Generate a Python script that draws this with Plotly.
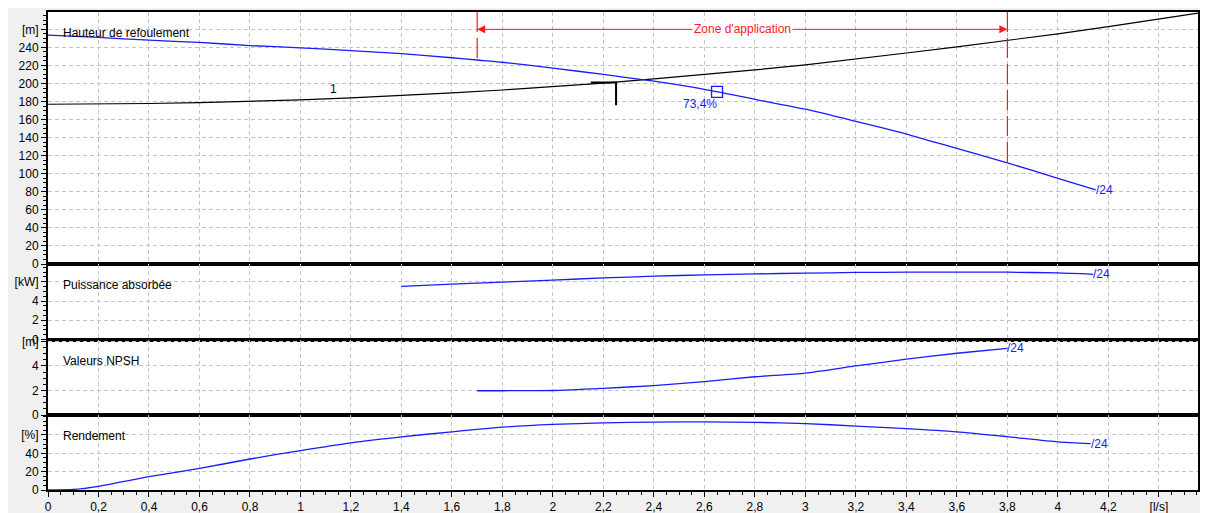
import numpy as np
import plotly.graph_objects as go
from plotly.subplots import make_subplots

# ---------------- data ----------------
# Pump head curve (blue), Q in l/s, H in m
q_head = [0, 0.2, 0.4, 0.6, 0.8, 1.0, 1.2, 1.4, 1.6, 1.7, 1.8, 2.0, 2.2, 2.4, 2.6,
          2.8, 3.0, 3.2, 3.4, 3.6, 3.8, 4.0, 4.15]
h_head = [253.5, 251, 248, 245.5, 242, 239.5, 236.5, 233, 228.5, 226, 223.5, 217,
          210, 202.5, 193.5, 182.5, 171.5, 158, 144, 128, 112, 95, 82]

# System curve (black)
q_sys = [0, 0.2, 0.4, 0.6, 0.8, 1.0, 1.2, 1.4, 1.6, 1.8, 2.0, 2.2, 2.4, 2.6, 2.8,
         3.0, 3.2, 3.4, 3.6, 3.8, 4.0, 4.2, 4.4, 4.555]
h_sys = [177, 177.2, 177.8, 178.8, 180.1, 181.9, 184, 186.6, 189.5, 192.8, 196.3,
         200.5, 205, 209.8, 215, 220.7, 227, 233.8, 240.5, 247.5, 255, 263, 271.3, 278]

# Duty point indicator on the system curve (black bracket)
duty_q = [2.15, 2.25, 2.25]
duty_h = [201.2, 201.2, 176]

# Best efficiency / operating point
op_q = [2.65]
op_h = [190.8]
op_label = "73,4%"

# Application zone
zone_q = [1.7, 3.8]
zone_arrow_h = 260
zone_label = "Zone d'application"

# Power absorbed (kW)
q_pow = [1.4, 1.6, 1.8, 2.0, 2.2, 2.4, 2.6, 2.8, 3.0, 3.2, 3.4, 3.6, 3.8, 4.0, 4.14]
p_pow = [5.52, 5.75, 5.97, 6.18, 6.4, 6.58, 6.72, 6.82, 6.9, 6.97, 7.0, 7.0, 7.0, 6.92, 6.78]

# NPSH (m)
q_npsh = [1.7, 1.8, 2.0, 2.2, 2.4, 2.6, 2.8, 3.0, 3.2, 3.4, 3.6, 3.8]
v_npsh = [1.98, 1.98, 2.0, 2.18, 2.4, 2.72, 3.12, 3.42, 4.0, 4.55, 5.04, 5.44]

# Efficiency (%)
q_eff = [0, 0.1, 0.2, 0.4, 0.6, 0.8, 1.0, 1.2, 1.4, 1.6, 1.8, 2.0, 2.2, 2.4, 2.6,
         2.8, 3.0, 3.2, 3.4, 3.6, 3.8, 4.0, 4.13]
v_eff = [0, 0.6, 4, 14.5, 23.5, 33.8, 43, 51.5, 58, 63.5, 68.5, 71.5, 73.2, 74,
         74.3, 73.8, 72.5, 69.7, 67, 63.5, 58.2, 52.5, 50.6]

curve_name = "/24"
system_name = "1"

# axis tick labels
x_tickvals = [round(0.2 * i, 1) for i in range(23)]
x_ticktext = ["0", "0,2", "0,4", "0,6", "0,8", "1", "1,2", "1,4", "1,6", "1,8", "2",
              "2,2", "2,4", "2,6", "2,8", "3", "3,2", "3,4", "3,6", "3,8", "4", "4,2", "[l/s]"]
y1_tickvals = list(range(0, 261, 20))
y1_ticktext = [str(v) for v in range(0, 241, 20)] + ["[m]"]
y2_tickvals = [0, 2, 4, 6]
y2_ticktext = ["0", "2", "4", "[kW]"]
y3_tickvals = [0, 2, 4, 6]
y3_ticktext = ["0", "2", "4", "[m]"]
y4_tickvals = [0, 20, 40, 60]
y4_ticktext = ["0", "20", "40", "[%]"]

panel_titles = ["Hauteur de refoulement", "Puissance absorbée", "Valeurs NPSH", "Rendement"]

# ---------------- styling ----------------
BLUE = "#1a1aff"
RED = "#ff1a1a"
GRID = "#c4c4c4"
FONT = "Liberation Sans"
X_MAX = 4.555
Y_RANGES = [[0, 279.2], [0, 7.85], [0, 6.16], [0, 81.8]]

fig = make_subplots(rows=4, cols=1, shared_xaxes=True, vertical_spacing=0,
                    row_heights=[252, 75.5, 75.5, 75])

# top panel
fig.add_trace(go.Scatter(x=q_sys, y=h_sys, mode="lines",
                         line=dict(color="black", width=1.2)), row=1, col=1)
fig.add_trace(go.Scatter(x=duty_q, y=duty_h, mode="lines",
                         line=dict(color="black", width=2)), row=1, col=1)
fig.add_trace(go.Scatter(x=q_head, y=h_head, mode="lines", line_shape="spline",
                         line=dict(color=BLUE, width=1.3, smoothing=0.6)), row=1, col=1)

# application zone vertical dashed lines (from top down to the pump curve)
for qz in zone_q:
    hz = float(np.interp(qz, q_head, h_head))
    fig.add_trace(go.Scatter(x=[qz, qz], y=[Y_RANGES[0][1], hz], mode="lines",
                             line=dict(color=RED, width=1.2, dash="20px,6px")),
                  row=1, col=1)

fig.add_trace(go.Scatter(x=op_q, y=op_h, mode="markers",
                         marker=dict(symbol="square-open", size=11,
                                     color=BLUE, line=dict(width=1.3))),
              row=1, col=1)

fig.add_trace(go.Scatter(x=q_pow, y=p_pow, mode="lines", line_shape="spline",
                         line=dict(color=BLUE, width=1.3, smoothing=0.6)), row=2, col=1)
fig.add_trace(go.Scatter(x=q_npsh, y=v_npsh, mode="lines", line_shape="spline",
                         line=dict(color=BLUE, width=1.3, smoothing=0.6)), row=3, col=1)
fig.add_trace(go.Scatter(x=q_eff, y=v_eff, mode="lines", line_shape="spline",
                         line=dict(color=BLUE, width=1.3, smoothing=0.6)), row=4, col=1)

# axes
for r in range(1, 5):
    fig.update_xaxes(row=r, col=1, range=[0, X_MAX], showgrid=True, automargin=False,
                     gridcolor=GRID, griddash="4px,3px", gridwidth=1,
                     tickvals=x_tickvals, ticktext=x_ticktext,
                     showline=True, linecolor="black", linewidth=2, mirror=True,
                     zeroline=False,
                     showticklabels=(r == 4),
                     ticks="outside" if r == 4 else "",
                     ticklen=5, tickcolor="black", tickwidth=1,
                     tickfont=dict(family=FONT, size=12, color="black"))
fig.update_xaxes(row=4, col=1,
                 minor=dict(dtick=0.05, tick0=0, ticks="outside", ticklen=3,
                            tickcolor="black", showgrid=False))

y_ticks = [(y1_tickvals, y1_ticktext, 5), (y2_tickvals, y2_ticktext, 0.5),
           (y3_tickvals, y3_ticktext, 0.5), (y4_tickvals, y4_ticktext, 5)]
for r, (tv, tt, mdt) in enumerate(y_ticks, start=1):
    fig.update_yaxes(row=r, col=1, range=Y_RANGES[r - 1], showgrid=True, automargin=False,
                     gridcolor=GRID, griddash="4px,3px", gridwidth=1,
                     tickvals=tv, ticktext=tt, zeroline=False,
                     showline=True, linecolor="black", linewidth=2, mirror=True,
                     ticks="outside", ticklen=5, tickcolor="black",
                     tickfont=dict(family=FONT, size=12, color="black"),
                     minor=dict(dtick=mdt, tick0=0, ticks="outside", ticklen=3,
                                tickcolor="black", showgrid=False))

ann = []
# panel titles (fixed offset below each panel's top edge)
for r, t in enumerate(panel_titles, start=1):
    ax = "" if r == 1 else str(r)
    ann.append(dict(x=0.05, y=1, xref="x" + ax, yref="y" + ax + " domain", text=t,
                    showarrow=False, xanchor="left", yanchor="middle", yshift=-21,
                    font=dict(family=FONT, size=12, color="black")))

# curve end labels
ends = [(q_head, h_head, ""), (q_pow, p_pow, "2"), (q_npsh, v_npsh, "3"), (q_eff, v_eff, "4")]
for qs, vs, ax in ends:
    ann.append(dict(x=qs[-1], y=vs[-1], xref="x" + ax, yref="y" + ax, text=curve_name,
                    showarrow=False, xanchor="left", yanchor="middle", xshift=-2,
                    font=dict(family=FONT, size=12, color=BLUE)))

# system curve label
ann.append(dict(x=1.13, y=float(np.interp(1.13, q_sys, h_sys)), xref="x", yref="y",
                text=system_name, showarrow=False, yanchor="bottom", yshift=1,
                font=dict(family=FONT, size=12, color="black")))

# operating point label
ann.append(dict(x=op_q[0], y=op_h[0], xref="x", yref="y", text=op_label,
                showarrow=False, xanchor="right", yanchor="top", xshift=2, yshift=-3,
                font=dict(family=FONT, size=12, color=BLUE)))

# application zone arrows + label
zmid = (zone_q[0] + zone_q[1]) / 2
for qz in zone_q:
    ann.append(dict(x=qz, y=zone_arrow_h, ax=zmid, ay=zone_arrow_h, xref="x", yref="y",
                    axref="x", ayref="y", text="", showarrow=True, arrowhead=2,
                    arrowsize=1.6, arrowwidth=1, arrowcolor=RED, standoff=0))
ann.append(dict(x=zmid, y=zone_arrow_h, xref="x", yref="y", text=zone_label,
                showarrow=False, bgcolor="white", borderpad=1,
                font=dict(family=FONT, size=12, color=RED)))

# The page body has an 8px margin, so the figure is sized to fit the window.
fig.update_layout(width=1200, height=505,
                  margin=dict(l=40, r=10, t=4, b=23),
                  paper_bgcolor="#f0f0f0", plot_bgcolor="white",
                  showlegend=False, annotations=ann,
                  font=dict(family=FONT, size=12, color="black"))

fig.write_html("out.html")
